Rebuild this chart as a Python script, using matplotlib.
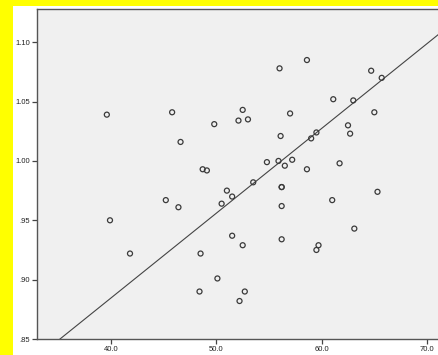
import numpy as np
import matplotlib.pyplot as plt
from matplotlib.patches import Rectangle
from matplotlib.ticker import FixedLocator, FixedFormatter

# Izmerjene vrednosti (x, y) za vsako točko razsevnega diagrama.
x_vals = [39.6, 39.9, 41.8, 45.2, 45.8, 46.6, 46.4, 48.4, 48.5, 48.7,
          49.1, 49.8, 50.1, 50.5, 51.0, 51.5, 51.5, 52.1, 52.2, 52.5,
          52.5, 52.7, 53.0, 53.5, 54.8, 55.9, 56.0, 56.1, 56.2, 56.2,
          56.2, 56.2, 56.5, 57.0, 57.2, 58.6, 58.6, 59.0, 59.5, 59.5,
          59.7, 61.0, 61.1, 61.7, 62.5, 62.7, 63.0, 63.1, 64.7, 65.0,
          65.3, 65.7]
y_vals = [1.039, 0.950, 0.922, 0.967, 1.041, 1.016, 0.961, 0.890, 0.922, 0.993,
          0.992, 1.031, 0.901, 0.964, 0.975, 0.970, 0.937, 1.034, 0.882, 1.043,
          0.929, 0.890, 1.035, 0.982, 0.999, 1.000, 1.078, 1.021, 0.978, 0.978,
          0.962, 0.934, 0.996, 1.040, 1.001, 1.085, 0.993, 1.019, 1.024, 0.925,
          0.929, 0.967, 1.052, 0.998, 1.030, 1.023, 1.051, 0.943, 1.076, 1.041,
          0.974, 1.070]

# Premica prileganja: y = presek + naklon * x.
fit_intercept = 0.599
fit_slope = 0.00714

x_ticks = [40.0, 50.0, 60.0, 70.0]
x_tick_labels = ["40.0", "50.0", "60.0", "70.0"]
y_ticks = [0.85, 0.90, 0.95, 1.00, 1.05, 1.10]
y_tick_labels = [".85", ".90", ".95", "1.00", "1.05", "1.10"]

W, H = 439, 355
fig = plt.figure(figsize=(W / 100, H / 100), dpi=100)
fig.patch.set_facecolor("#FFFF00")

# Belo ozadje grafa znotraj rumenega roba.
fig.patches.append(Rectangle((13 / W, 0), 1 - 13 / W, 1 - 6 / H,
                             transform=fig.transFigure, facecolor="white",
                             edgecolor="none", zorder=-5))

ax = fig.add_axes([37 / W, (H - 339) / H, (441 - 37) / W, (339 - 9) / H])
ax.set_zorder(1)
ax.set_facecolor("#F0F0F0")
ax.set_xlim(32.97, 71.33)
ax.set_ylim(0.85, 1.128)

ax.scatter(x_vals, y_vals, s=13, facecolors="none", edgecolors="#3a3a3a",
           linewidths=0.9, zorder=3)

xl = np.array(ax.get_xlim())
ax.plot(xl, fit_intercept + fit_slope * xl, color="#444444", linewidth=0.8,
        zorder=2)

ax.xaxis.set_major_locator(FixedLocator(x_ticks))
ax.xaxis.set_major_formatter(FixedFormatter(x_tick_labels))
ax.yaxis.set_major_locator(FixedLocator(y_ticks))
ax.yaxis.set_major_formatter(FixedFormatter(y_tick_labels))

for sp in ax.spines.values():
    sp.set_color("#555555")
    sp.set_linewidth(1.0)
ax.tick_params(direction="out", length=3.5, width=0.9, color="#444444",
               labelsize=5.5, labelcolor="#222222", pad=1.5)
for lbl in ax.get_xticklabels() + ax.get_yticklabels():
    lbl.set_family("Liberation Sans")

fig.savefig("out.png", dpi=100, facecolor=fig.get_facecolor())
